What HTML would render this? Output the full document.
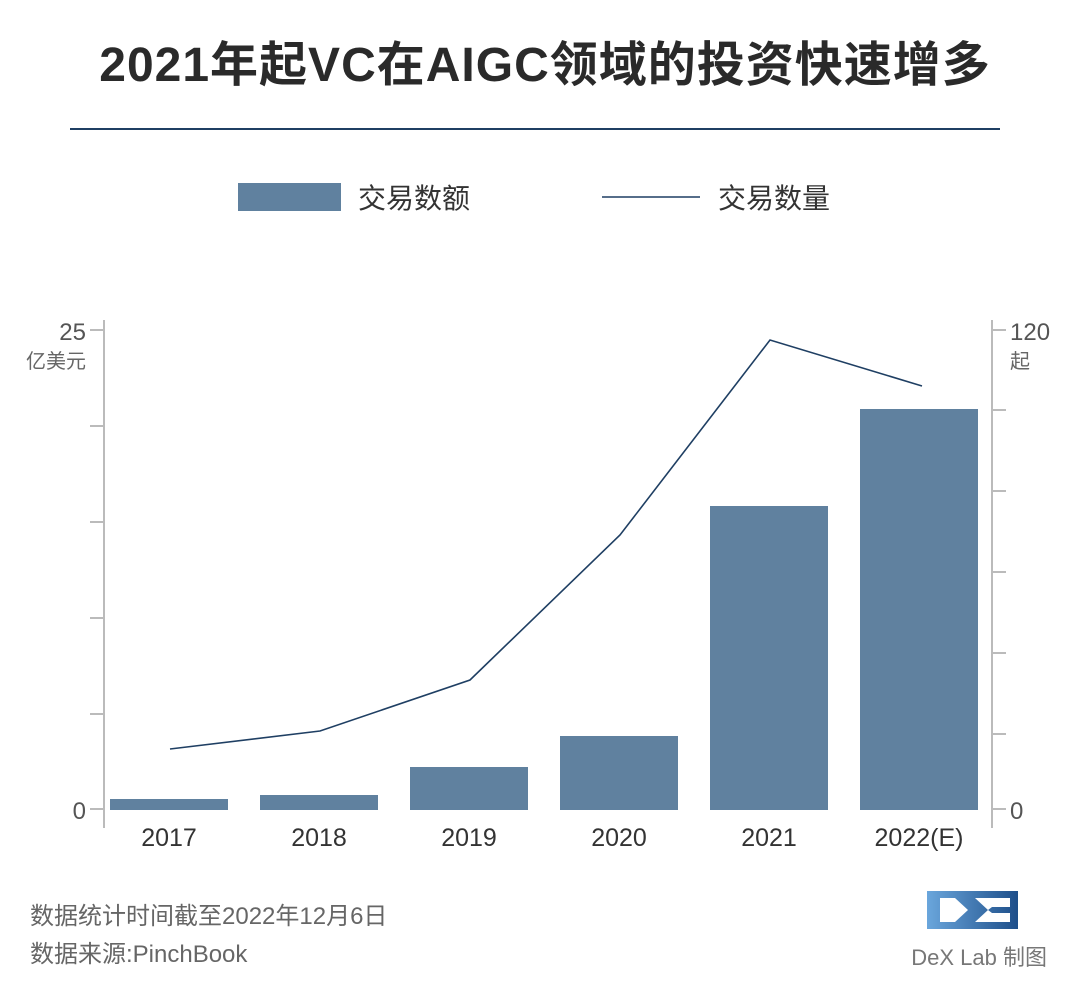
<!DOCTYPE html>
<html><head><meta charset="utf-8"><style>
body{margin:0;background:#fff;}
svg text{font-family:"Liberation Sans","Noto Sans CJK SC",sans-serif;}
</style></head><body>
<svg width="1080" height="986" xmlns="http://www.w3.org/2000/svg">
<defs><linearGradient id="g" x1="0" x2="1"><stop offset="0" stop-color="#6aa6dc"/><stop offset="1" stop-color="#1e4f8a"/></linearGradient></defs>
<text x="545" y="81" text-anchor="middle" font-size="48" font-weight="bold" fill="#2a2a2a" letter-spacing="1">2021年起VC在AIGC领域的投资快速增多</text>
<line x1="70" y1="129" x2="1000" y2="129" stroke="#1f3f63" stroke-width="2"/>
<rect x="238" y="183" width="103" height="28" fill="#60819f"/>
<text x="358" y="208" font-size="28" fill="#333">交易数额</text>
<line x1="602" y1="197" x2="700" y2="197" stroke="#1f3f63" stroke-width="1.6"/>
<text x="718" y="208" font-size="28" fill="#333">交易数量</text>
<g stroke="#bbb" stroke-width="2">
<line x1="104" y1="320" x2="104" y2="828"/>
<line x1="90" y1="330" x2="104" y2="330"/><line x1="90" y1="426" x2="104" y2="426"/><line x1="90" y1="522" x2="104" y2="522"/><line x1="90" y1="618" x2="104" y2="618"/><line x1="90" y1="714" x2="104" y2="714"/><line x1="90" y1="809" x2="104" y2="809"/>
<line x1="992" y1="320" x2="992" y2="828"/>
<line x1="992" y1="330" x2="1006" y2="330"/><line x1="992" y1="410" x2="1006" y2="410"/><line x1="992" y1="491" x2="1006" y2="491"/><line x1="992" y1="572" x2="1006" y2="572"/><line x1="992" y1="653" x2="1006" y2="653"/><line x1="992" y1="734" x2="1006" y2="734"/><line x1="992" y1="809" x2="1006" y2="809"/>
</g>
<g fill="#555" font-size="24">
<text x="86" y="340" text-anchor="end">25</text>
<text x="86" y="819" text-anchor="end">0</text>
<text x="1010" y="340">120</text>
<text x="1010" y="819">0</text>
</g>
<text x="86" y="368" text-anchor="end" font-size="20" fill="#666">亿美元</text>
<text x="1010" y="368" font-size="20" fill="#666">起</text>
<g fill="#60819f">
<rect x="110" y="799" width="118" height="11"/>
<rect x="260" y="795" width="118" height="15"/>
<rect x="410" y="767" width="118" height="43"/>
<rect x="560" y="736" width="118" height="74"/>
<rect x="710" y="506" width="118" height="304"/>
<rect x="860" y="409" width="118" height="401"/>
</g>
<polyline points="170,749 320,731 470,680 620,535 770,340 922,386" fill="none" stroke="#1f3f63" stroke-width="1.6"/>
<g fill="#333" font-size="25" text-anchor="middle">
<text x="169" y="846">2017</text><text x="319" y="846">2018</text><text x="469" y="846">2019</text><text x="619" y="846">2020</text><text x="769" y="846">2021</text><text x="919" y="846">2022(E)</text>
</g>
<text x="30" y="924" font-size="24" fill="#666">数据统计时间截至2022年12月6日</text>
<text x="30" y="962" font-size="24" fill="#666">数据来源:PinchBook</text>
<path d="M927 891 H1018 V929 H927 Z M940 898 V922 H955 L968 910 L955 898 Z M975 898 L988 910 L975 922 H1010 V913 H992 L988 910 L992 907 H1010 V898 Z" fill="url(#g)" fill-rule="evenodd"/>
<text x="1047" y="965" text-anchor="end" font-size="22" fill="#777">DeX Lab 制图</text>
</svg>
</body></html>
